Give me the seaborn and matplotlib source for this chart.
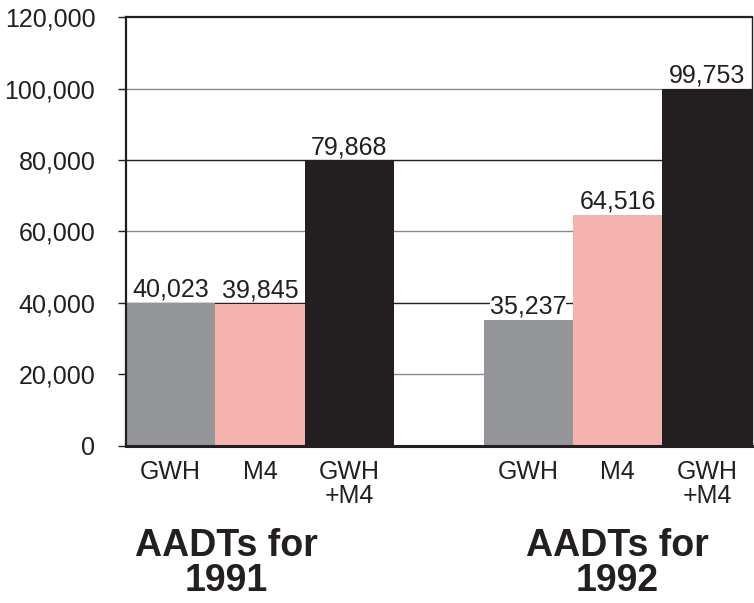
import numpy as np
import pandas as pd
import matplotlib
matplotlib.use("Agg")
import matplotlib.pyplot as plt
import matplotlib.transforms as mtransforms
import seaborn as sns

# data
series = ["GWH", "M4", "GWH+M4", "GWH", "M4", "GWH+M4"]
years = ["1991", "1991", "1991", "1992", "1992", "1992"]
values = [40023, 39845, 79868, 35237, 64516, 99753]
positions = [0, 1, 2, 4, 5, 6]
tick_labels = ["GWH", "M4", "GWH\n+M4", "GWH", "M4", "GWH\n+M4"]
group_titles = ["AADTs for\n1991", "AADTs for\n1992"]
y_ticks = [0, 20000, 40000, 60000, 80000, 100000, 120000]

colors = {"GWH": "#939598", "M4": "#F5B3AD", "GWH+M4": "#231F20"}
dark = "#231F20"

sns.set_theme(style="white")
plt.rcParams["font.family"] = ["Liberation Sans", "DejaVu Sans"]

df = pd.DataFrame({"pos": positions, "value": values, "series": series, "year": years})

fig = plt.figure(figsize=(7.54, 6.03), dpi=100)
ax = fig.add_axes([0.167, 0.2604, 0.830, 0.7114])

sns.barplot(data=df, x="pos", y="value", hue="series", palette=colors,
            native_scale=True, width=1, dodge=False, legend=False,
            saturation=1, linewidth=0, ax=ax, zorder=3)

# gridlines (alternating grey / dark as in the original)
for i, t in enumerate(y_ticks[1:-1]):
    ax.axhline(t, color="#8a8a8a" if i % 2 == 0 else dark, lw=1.0, zorder=1)

ax.set_xlim(-0.5, 6.5)
ax.set_ylim(0, 120000)
ax.set_yticks(y_ticks)
ax.set_yticklabels([f"{v:,}" for v in y_ticks], fontsize=18, color=dark)
ax.set_xticks(positions)
ax.set_xticklabels(tick_labels, fontsize=18, color=dark, linespacing=1.0)
ax.tick_params(axis="y", left=True, length=6, width=1, color=dark, pad=16)
ax.tick_params(axis="x", bottom=False, pad=4)
ax.set_xlabel("")
ax.set_ylabel("")

for side in ["left", "top", "right", "bottom"]:
    ax.spines[side].set_color(dark)
    ax.spines[side].set_linewidth(1.6)
    ax.spines[side].set_zorder(5)
ax.spines["bottom"].set_linewidth(2.2)
ax.spines["right"].set_linewidth(1.0)

# value labels
for p, v in zip(positions, values):
    ax.annotate(f"{v:,}", (p, v), xytext=(0, 1), textcoords="offset points",
                ha="center", va="bottom", fontsize=18, color=dark, zorder=6,
                bbox=dict(boxstyle="square,pad=0", fc="white", ec="none"))

# group titles under the axis
trans = mtransforms.blended_transform_factory(ax.transData, fig.transFigure)
for xc, title in zip([0.62, 5.0], group_titles):
    fig.text(xc, 0.066, title, transform=trans, ha="center", va="center",
             multialignment="center", fontsize=27, fontweight="bold",
             color=dark, linespacing=0.95)

fig.savefig("out.png", dpi=100)
